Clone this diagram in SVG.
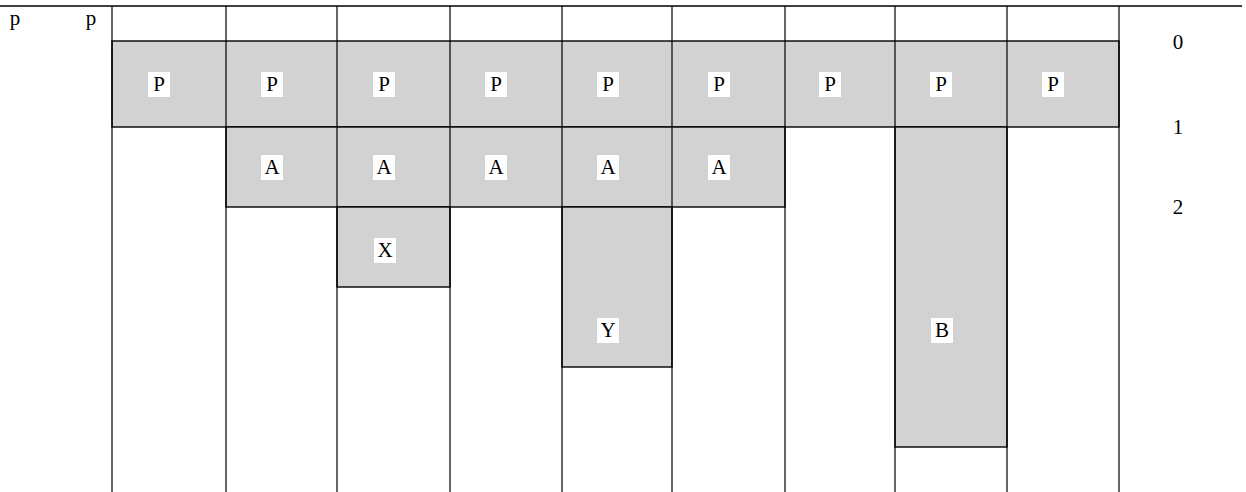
<svg xmlns="http://www.w3.org/2000/svg" width="1246" height="492" viewBox="0 0 1246 492">
<style>
.sh{fill:#d2d2d2;stroke:#000;stroke-width:1.4}
.ln{stroke:#000;stroke-width:1.2;fill:none}
.lb{fill:#fff}
text{font-family:"Liberation Serif","DejaVu Serif",serif;font-size:21px;fill:#000;text-anchor:middle}
</style>
<rect width="1246" height="492" fill="#fff"/>
<g id="bands">
<rect id="row-P" class="sh" x="112" y="41" width="1007" height="86"/>
<rect id="row-A" class="sh" x="226" y="127" width="559" height="80"/>
<rect id="cell-X" class="sh" x="337" y="207" width="113" height="80"/>
<rect id="cell-Y" class="sh" x="562" y="207" width="110" height="160"/>
<rect id="cell-B" class="sh" x="895" y="127" width="112" height="320"/>
</g>
<g id="grid">
<line x1="0" y1="6" x2="1242" y2="6" stroke="#000" stroke-width="1.5"/>
<line class="ln" x1="112" y1="6" x2="112" y2="492"/>
<line class="ln" x1="226" y1="6" x2="226" y2="492"/>
<line class="ln" x1="337" y1="6" x2="337" y2="492"/>
<line class="ln" x1="450" y1="6" x2="450" y2="492"/>
<line class="ln" x1="562" y1="6" x2="562" y2="492"/>
<line class="ln" x1="672" y1="6" x2="672" y2="492"/>
<line class="ln" x1="785" y1="6" x2="785" y2="492"/>
<line class="ln" x1="895" y1="6" x2="895" y2="492"/>
<line class="ln" x1="1007" y1="6" x2="1007" y2="492"/>
<line class="ln" x1="1119" y1="6" x2="1119" y2="492"/>
</g>
<g id="labels">
<rect class="lb" x="148" y="72" width="22" height="25"/><text x="159" y="91">P</text>
<rect class="lb" x="261" y="72" width="22" height="25"/><text x="272" y="91">P</text>
<rect class="lb" x="373" y="72" width="22" height="25"/><text x="384" y="91">P</text>
<rect class="lb" x="485" y="72" width="22" height="25"/><text x="496" y="91">P</text>
<rect class="lb" x="597" y="72" width="22" height="25"/><text x="608" y="91">P</text>
<rect class="lb" x="708" y="72" width="22" height="25"/><text x="719" y="91">P</text>
<rect class="lb" x="819" y="72" width="22" height="25"/><text x="830" y="91">P</text>
<rect class="lb" x="930" y="72" width="22" height="25"/><text x="941" y="91">P</text>
<rect class="lb" x="1042" y="72" width="22" height="25"/><text x="1053" y="91">P</text>
<rect class="lb" x="261" y="155" width="22" height="25"/><text x="272" y="174">A</text>
<rect class="lb" x="373" y="155" width="22" height="25"/><text x="384" y="174">A</text>
<rect class="lb" x="485" y="155" width="22" height="25"/><text x="496" y="174">A</text>
<rect class="lb" x="597" y="155" width="22" height="25"/><text x="608" y="174">A</text>
<rect class="lb" x="708" y="155" width="22" height="25"/><text x="719" y="174">A</text>
<rect class="lb" x="374" y="238" width="22" height="25"/><text x="385" y="257">X</text>
<rect class="lb" x="597" y="318" width="22" height="25"/><text x="608" y="337">Y</text>
<rect class="lb" x="931" y="318" width="22" height="25"/><text x="942" y="337">B</text>
<text x="15" y="25">p</text>
<text x="91" y="25">p</text>
<text x="1178" y="49">0</text>
<text x="1178" y="134">1</text>
<text x="1178" y="214">2</text>
</g>
</svg>
